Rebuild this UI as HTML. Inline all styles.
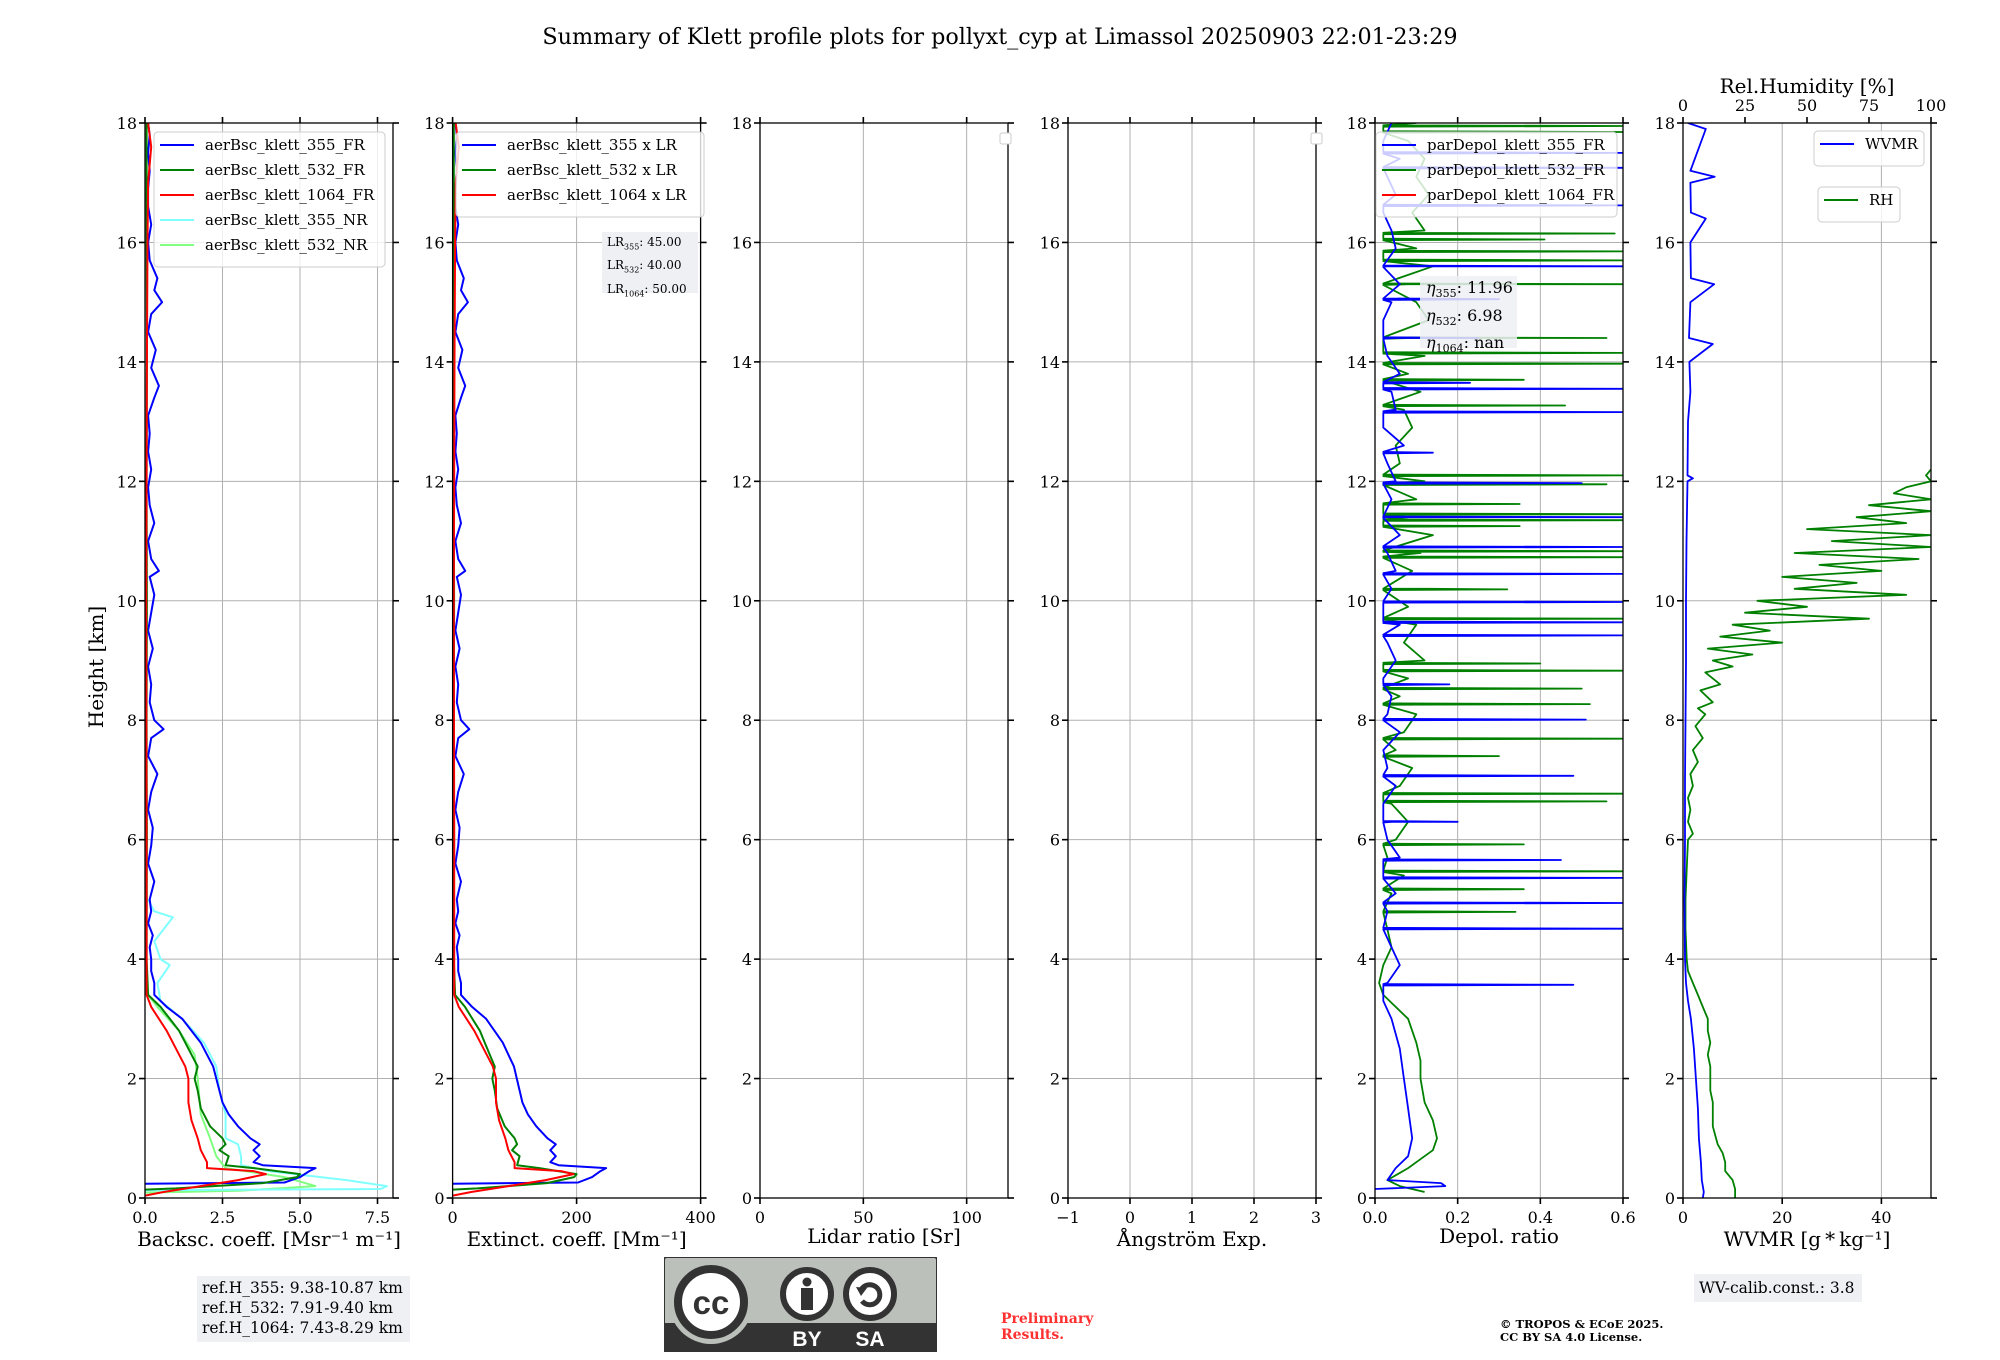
<!DOCTYPE html>
<html><head><meta charset="utf-8"><style>
html,body{margin:0;padding:0;background:#fff;}
svg{display:block;font-family:"DejaVu Serif","Liberation Serif",serif;}
</style></head><body>
<svg id="chart" width="2000" height="1360" viewBox="0 0 2000 1360" xmlns="http://www.w3.org/2000/svg">
<rect x="0" y="0" width="2000" height="1360" fill="#fff"/>
<text x="1000" y="44" text-anchor="middle" font-size="22.3">Summary of Klett profile plots for pollyxt_cyp at Limassol 20250903 22:01-23:29</text>
<text transform="translate(103,667) rotate(-90)" text-anchor="middle" font-size="20">Height [km]</text>
</svg>
<script>
// ---------------- data ----------------
const heightTicks=[0,2,4,6,8,10,12,14,16,18];
const lidarRatios=[45,40,50];
const bsc355FR=[[0.24,0],[0.26,4.5],[0.35,5.0],[0.45,5.3],[0.5,5.5],[0.55,3.8],[0.6,3.5],[0.7,3.7],[0.8,3.5],[0.9,3.7],[1.0,3.4],[1.2,3.0],[1.4,2.7],[1.6,2.5],[1.8,2.4],[2.0,2.3],[2.2,2.2],[2.4,2.0],[2.6,1.8],[2.8,1.5],[3.0,1.2],[3.2,0.7],[3.4,0.3],[3.6,0.3],[3.8,0.2],[4.0,0.2],[4.2,0.15],[4.4,0.25],[4.6,0.1],[4.8,0.2],[5.0,0.15],[5.3,0.3],[5.6,0.1],[5.9,0.2],[6.2,0.25],[6.5,0.1],[6.8,0.2],[7.1,0.4],[7.4,0.1],[7.7,0.2],[7.85,0.6],[8.0,0.3],[8.3,0.15],[8.6,0.2],[8.9,0.1],[9.2,0.25],[9.5,0.1],[9.8,0.2],[10.1,0.3],[10.4,0.15],[10.5,0.45],[10.7,0.2],[11.0,0.1],[11.3,0.3],[11.6,0.15],[11.9,0.1],[12.2,0.2],[12.5,0.1],[12.8,0.15],[13.1,0.1],[13.4,0.3],[13.6,0.45],[13.9,0.2],[14.2,0.35],[14.5,0.1],[14.8,0.2],[15.0,0.55],[15.2,0.3],[15.4,0.4],[15.7,0.15],[16.0,0.1],[16.3,0.2],[16.6,0.1],[16.9,0.1],[17.2,0.15],[17.5,0.1],[17.8,0.15],[18.0,0.1]];
const bsc532FR=[[0.14,0],[0.16,1.0],[0.25,3.8],[0.35,4.9],[0.4,5.0],[0.5,3.5],[0.55,2.6],[0.7,2.7],[0.8,2.4],[0.9,2.6],[1.0,2.5],[1.2,2.1],[1.5,1.8],[1.8,1.7],[2.0,1.6],[2.2,1.7],[2.4,1.5],[2.6,1.3],[2.8,1.1],[3.0,0.8],[3.2,0.5],[3.4,0.1],[4.0,0.05],[6.0,0.06],[8.0,0.05],[10.0,0.06],[12.0,0.05],[14.0,0.06],[16.0,0.05],[18.0,0.05]];
const bsc1064FR=[[0.04,0],[0.1,0.6],[0.2,1.8],[0.3,3.0],[0.4,3.9],[0.45,3.5],[0.5,2.0],[0.6,2.0],[0.8,1.8],[1.0,1.7],[1.3,1.5],[1.6,1.4],[2.0,1.4],[2.2,1.3],[2.4,1.1],[2.8,0.7],[3.2,0.2],[3.4,0.05],[6.0,0.05],[10.0,0.04],[14.0,0.06],[16.0,0.08],[17.0,0.1],[17.6,0.2],[18.0,0.1]];
const bsc355NR=[[0.13,0],[0.15,7.6],[0.2,7.8],[0.3,6.5],[0.45,4.0],[0.55,3.1],[0.7,3.1],[0.9,3.0],[1.0,2.6],[1.4,2.6],[1.8,2.4],[2.2,2.3],[2.6,1.9],[3.0,1.2],[3.3,0.5],[3.6,0.4],[3.9,0.8],[4.0,0.5],[4.3,0.3],[4.7,0.9],[4.8,0.3],[5.0,0.1]];
const bsc532NR=[[0.09,0],[0.12,3.0],[0.2,5.5],[0.35,4.5],[0.5,2.6],[0.7,2.3],[1.0,2.1],[1.4,1.8],[2.0,1.7],[2.4,1.6],[2.8,1.1],[3.2,0.4],[3.4,0.1]];
const dep355Low=[[0.15,0.0],[0.2,0.17],[0.25,0.16],[0.3,0.03],[0.5,0.05],[0.7,0.08],[1.0,0.09],[1.5,0.08],[2.0,0.07],[2.5,0.06],[3.0,0.04],[3.3,0.02],[3.6,0.03]];
const dep355Bg=[[3.9,0.06],[4.2,0.04],[4.5,0.05],[4.8,0.03],[5.1,0.05],[5.4,0.02],[5.7,0.06],[6.0,0.03],[6.3,0.04],[6.6,0.02],[6.9,0.05],[7.2,0.03],[7.5,0.02],[7.8,0.06],[8.1,0.03],[8.4,0.04],[8.7,0.02],[9.0,0.05],[9.3,0.03],[9.6,0.06],[9.9,0.02],[10.2,0.04],[10.5,0.05],[10.8,0.03],[11.1,0.06],[11.4,0.02],[11.7,0.04],[12.0,0.05],[12.3,0.03],[12.6,0.07],[12.9,0.02],[13.2,0.05],[13.5,0.04],[13.8,0.06],[14.1,0.03],[14.4,0.05],[14.7,0.02],[15.0,0.04],[15.3,0.06],[15.6,0.03],[15.9,0.05],[16.2,0.04],[16.5,0.02],[16.8,0.05],[17.1,0.03],[17.4,0.06],[17.7,0.02],[18.0,0.04]];
const dep355Spikes=[[17.5,0.6],[17.25,0.6],[16.62,0.6],[15.6,0.6],[15.05,0.3],[14.4,0.25],[13.65,0.23],[13.55,0.6],[13.16,0.6],[12.48,0.14],[11.97,0.5],[11.4,0.6],[10.9,0.6],[10.45,0.6],[9.98,0.6],[9.64,0.6],[9.42,0.6],[8.6,0.18],[8.01,0.51],[7.07,0.48],[6.3,0.2],[5.66,0.45],[5.36,0.6],[4.94,0.6],[4.51,0.6],[3.57,0.48]];
const dep532Low=[[0.1,0.12],[0.2,0.06],[0.3,0.03],[0.5,0.08],[0.6,0.1],[0.8,0.14],[1.0,0.15],[1.3,0.14],[1.6,0.12],[2.0,0.11],[2.3,0.11],[2.6,0.1],[3.0,0.08],[3.2,0.05],[3.4,0.02],[3.6,0.01]];
const dep532Bg=[[3.9,0.02],[4.2,0.04],[4.5,0.03],[4.8,0.06],[5.1,0.04],[5.4,0.07],[5.7,0.03],[6.0,0.05],[6.3,0.08],[6.6,0.04],[6.9,0.06],[7.2,0.09],[7.5,0.05],[7.8,0.07],[8.1,0.1],[8.4,0.06],[8.7,0.08],[9.0,0.12],[9.3,0.07],[9.6,0.1],[9.9,0.08],[10.2,0.13],[10.5,0.09],[10.8,0.11],[11.1,0.14],[11.4,0.08],[11.7,0.1],[12.0,0.12],[12.3,0.06],[12.6,0.05],[12.9,0.09],[13.2,0.07],[13.5,0.11],[13.8,0.08],[14.1,0.12],[14.4,0.09],[14.7,0.13],[15.0,0.1],[15.3,0.08],[15.6,0.14],[15.9,0.1],[16.2,0.12],[16.5,0.09],[16.8,0.13],[17.1,0.1],[17.4,0.12],[17.7,0.08],[18.0,0.1]];
const dep532Spikes=[[17.95,0.6],[17.85,0.6],[16.15,0.58],[16.05,0.41],[15.85,0.6],[15.7,0.6],[15.3,0.6],[14.4,0.56],[14.15,0.6],[13.97,0.6],[13.7,0.36],[13.27,0.46],[12.1,0.6],[11.95,0.56],[11.62,0.35],[11.45,0.6],[11.35,0.6],[11.25,0.35],[10.83,0.6],[10.73,0.6],[10.19,0.32],[9.7,0.6],[8.95,0.4],[8.83,0.6],[8.53,0.5],[8.27,0.52],[7.69,0.6],[7.4,0.3],[6.77,0.6],[6.64,0.56],[5.92,0.36],[5.47,0.6],[5.17,0.36],[4.79,0.34]];
const rhProfile=[[0,21],[0.15,21],[0.3,20],[0.45,17],[0.6,17],[0.75,16],[0.9,14],[1.05,13],[1.2,12],[1.4,12],[1.6,12],[1.8,11],[2.0,11],[2.2,11],[2.4,10],[2.6,11],[2.8,10],[3.0,10],[3.2,8],[3.4,6],[3.6,4],[3.8,2],[4.0,1.5],[4.5,1],[5.0,1],[5.5,1.5],[6.0,2],[6.1,4],[6.3,2],[6.5,3],[6.7,2],[6.9,4],[7.1,3],[7.3,6],[7.5,4],[7.7,8],[7.9,5],[8.1,9],[8.2,6],[8.3,12],[8.5,7],[8.6,15],[8.8,9],[8.9,20],[9.0,12],[9.1,28],[9.2,10],[9.3,40],[9.4,15],[9.5,35],[9.6,20],[9.7,75],[9.8,25],[9.9,50],[10.0,30],[10.1,90],[10.2,45],[10.3,70],[10.4,40],[10.5,80],[10.6,55],[10.7,95],[10.8,45],[10.9,100],[11.0,60],[11.1,100],[11.2,50],[11.3,90],[11.4,70],[11.5,100],[11.6,75],[11.7,100],[11.8,85],[11.9,90],[12.0,100],[12.1,98],[12.2,100]];
const wvmrProfile=[[0,4],[0.1,4.2],[0.3,3.8],[0.6,3.6],[1.0,3.2],[1.5,3.0],[2.0,2.6],[2.5,2.2],[3.0,1.6],[3.3,1.0],[3.6,0.6],[4.0,0.4],[5.0,0.3],[6.0,0.4],[7.0,0.4],[8.0,0.5],[9.0,0.6],[10.0,0.6],[11.0,0.7],[12.0,0.9],[12.05,2],[12.1,0.9],[13.0,1.0],[13.5,1.5],[14.0,1.3],[14.3,6],[14.4,1.2],[15.0,1.5],[15.3,6.3],[15.4,1.6],[16.0,1.5],[16.4,4.6],[16.5,1.6],[17.0,1.5],[17.1,6.4],[17.2,1.5],[17.9,4.6],[18.0,1.0]];

// ---------------- layout ----------------
const NS='http://www.w3.org/2000/svg';
const svg=document.getElementById('chart');
const TOP=123, BOT=1198, W=248;
function mk(tag,attrs,parent,name,inter){
  const e=document.createElementNS(NS,tag);
  for(const k in attrs) e.setAttribute(k,attrs[k]);
  
  
  (parent||svg).appendChild(e);
  return e;
}
function yS(h){return BOT-(h/18)*(BOT-TOP);}
const panels=[
 {id:'backscatter',left:145,xmin:0,xmax:8,ticks:[0,2.5,5,7.5],labels:['0.0','2.5','5.0','7.5'],xlabel:'Backsc. coeff. [Msr\u207B\u00B9 m\u207B\u00B9]',ly:48},
 {id:'extinction',left:452.6,xmin:0,xmax:400,ticks:[0,200,400],labels:['0','200','400'],xlabel:'Extinct. coeff. [Mm\u207B\u00B9]',ly:48},
 {id:'lidar-ratio',left:760,xmin:0,xmax:120,ticks:[0,50,100],labels:['0','50','100'],xlabel:'Lidar ratio [Sr]',ly:45},
 {id:'angstrom',left:1068,xmin:-1,xmax:3,ticks:[-1,0,1,2,3],labels:['\u22121','0','1','2','3'],xlabel:'\u00C5ngstr\u00F6m Exp.',ly:48},
 {id:'depol',left:1375,xmin:0,xmax:0.6,ticks:[0,0.2,0.4,0.6],labels:['0.0','0.2','0.4','0.6'],xlabel:'Depol. ratio',ly:45},
 {id:'wvmr',left:1683,xmin:0,xmax:50,ticks:[0,20,40],labels:['0','20','40'],xlabel:'WVMR [g\u2009*\u2009kg\u207B\u00B9]',ly:48}
];
function xS(p,v){return p.left+(v-p.xmin)/(p.xmax-p.xmin)*W;}

const groups={};
panels.forEach((p,i)=>{
  const g=mk('g',{},svg,p.id+'-panel',false);
  groups[p.id]=g;
  const cp=mk('clipPath',{id:'clip'+i},g,p.id+'-clip',false);
  mk('rect',{x:p.left,y:TOP,width:W,height:BOT-TOP},cp,p.id+'-clip-rect',false);
  heightTicks.forEach(h=>{ if(h>0&&h<18) mk('line',{x1:p.left,x2:p.left+W,y1:yS(h),y2:yS(h),stroke:'#b0b0b0','stroke-width':1},g,'h-gridline',false);});
  p.ticks.forEach(t=>{ const x=xS(p,t); if(x>p.left+1&&x<p.left+W-1) mk('line',{x1:x,x2:x,y1:TOP,y2:BOT,stroke:'#b0b0b0','stroke-width':1},g,'v-gridline',false);});
  p.dataG=mk('g',{'clip-path':'url(#clip'+i+')'},g,p.id+'-series',false);
});

function line(p,pts,color,name,mapX,width){
  const d=pts.map((pt,k)=>(k?'L':'M')+mapX(pt[1]).toFixed(1)+','+yS(pt[0]).toFixed(1)).join('');
  return mk('path',{d:d,fill:'none',stroke:color,'stroke-width':width||2,'stroke-linejoin':'round'},p.dataG,name,false);
}
const P=panels;
const fx0=v=>xS(P[0],v);
line(P[0],bsc532NR,'#80ff80','bsc-532-nr-line',fx0);
line(P[0],bsc355NR,'#80ffff','bsc-355-nr-line',fx0);
line(P[0],bsc355FR,'#0000ff','bsc-355-fr-line',fx0);
line(P[0],bsc532FR,'#008000','bsc-532-fr-line',fx0);
line(P[0],bsc1064FR,'#ff0000','bsc-1064-fr-line',fx0);
const fx1=v=>xS(P[1],v);
line(P[1],bsc355FR.map(d=>[d[0],d[1]*lidarRatios[0]]),'#0000ff','ext-355-line',fx1);
line(P[1],bsc532FR.map(d=>[d[0],d[1]*lidarRatios[1]]),'#008000','ext-532-line',fx1);
line(P[1],bsc1064FR.map(d=>[d[0],d[1]*lidarRatios[2]]),'#ff0000','ext-1064-line',fx1);
function depSeries(low,bg,spikes){
  const pts=low.concat(bg);
  spikes.forEach(s=>{pts.push([s[0]-0.012,0.02]);pts.push([s[0],s[1]]);pts.push([s[0]+0.012,0.02]);});
  pts.sort((a,b)=>a[0]-b[0]);
  return pts;
}
const fx4=v=>xS(P[4],v);
line(P[4],depSeries(dep532Low,dep532Bg,dep532Spikes),'#008000','depol-532-line',fx4,1.8);
line(P[4],depSeries(dep355Low,dep355Bg,dep355Spikes),'#0000ff','depol-355-line',fx4,1.8);
line(P[5],rhProfile,'#008000','rh-line',v=>P[5].left+v/100*W,1.8);
line(P[5],wvmrProfile,'#0000ff','wvmr-line',v=>xS(P[5],v),1.8);

panels.forEach((p,i)=>{
  const g=groups[p.id];
  mk('rect',{x:p.left,y:TOP,width:W,height:BOT-TOP,fill:'none',stroke:'#000','stroke-width':1.3},g,p.id+'-frame',false);
  heightTicks.forEach(h=>{
    const y=yS(h);
    mk('line',{x1:p.left-6,x2:p.left,y1:y,y2:y,stroke:'#000','stroke-width':1.6},g,'y-tick',false);
    mk('line',{x1:p.left+W,x2:p.left+W+6,y1:y,y2:y,stroke:'#000','stroke-width':1.6},g,'y-tick-right',false);
    const t=mk('text',{x:p.left-8,y:y+6,'text-anchor':'end','font-size':16},g,'y-tick-label',false);
    t.textContent=String(h);
  });
  p.ticks.forEach((tv,k)=>{
    const x=xS(p,tv);
    mk('line',{x1:x,x2:x,y1:BOT,y2:BOT+6,stroke:'#000','stroke-width':1.6},g,'x-tick',false);
    if(i<5) mk('line',{x1:x,x2:x,y1:TOP-6,y2:TOP,stroke:'#000','stroke-width':1.6},g,'x-tick-top',false);
    const t=mk('text',{x:x,y:BOT+25,'text-anchor':'middle','font-size':16},g,'x-tick-label',false);
    t.textContent=p.labels[k];
  });
  const xl=mk('text',{x:p.left+W/2,y:BOT+p.ly,'text-anchor':'middle','font-size':20},g,p.id+'-x-axis-title',false);
  xl.textContent=p.xlabel;
});
const rhTicks=[0,25,50,75,100];
rhTicks.forEach(v=>{
  const x=P[5].left+v/100*W;
  mk('line',{x1:x,x2:x,y1:TOP-6,y2:TOP,stroke:'#000','stroke-width':1.6},groups.wvmr,'rh-tick',false);
  const t=mk('text',{x:x,y:TOP-12,'text-anchor':'middle','font-size':16},groups.wvmr,'rh-tick-label',false);
  t.textContent=String(v);
});
const rht=mk('text',{x:P[5].left+W/2,y:93,'text-anchor':'middle','font-size':20},groups.wvmr,'rh-axis-title',false);
rht.textContent='Rel.Humidity [%]';

function legend(x,y,w,entries,name,fs,rowH,alpha){
  const g=mk('g',{},svg,name,false);
  mk('rect',{x:x,y:y,width:w,height:entries.length*rowH+10,rx:4,fill:'#fff','fill-opacity':alpha,stroke:'#cccccc','stroke-width':1},g,name+'-box',false);
  entries.forEach((e,k)=>{
    const cy=y+13+k*rowH;
    mk('line',{x1:x+6,x2:x+40,y1:cy,y2:cy,stroke:e[1],'stroke-width':2},g,'legend-swatch',false);
    const t=mk('text',{x:x+51,y:cy+5,'font-size':fs},g,'legend-entry',true);
    t.textContent=e[0];
  });
}
legend(154,132,231,[['aerBsc_klett_355_FR','#0000ff'],['aerBsc_klett_532_FR','#008000'],['aerBsc_klett_1064_FR','#ff0000'],['aerBsc_klett_355_NR','#80ffff'],['aerBsc_klett_532_NR','#80ff80']],'backscatter-legend',15,25,0.8);
legend(456,132,248,[['aerBsc_klett_355 x LR','#0000ff'],['aerBsc_klett_532 x LR','#008000'],['aerBsc_klett_1064 x LR','#ff0000']],'extinction-legend',15,25,0.8);
legend(1376,132,241,[['parDepol_klett_355_FR','#0000ff'],['parDepol_klett_532_FR','#008000'],['parDepol_klett_1064_FR','#ff0000']],'depol-legend',15,25,0.8);
legend(1814,131,110,[['WVMR','#0000ff']],'wvmr-legend',15,25,0.8);
legend(1818,187,82,[['RH','#008000']],'rh-legend',15,25,0.8);
mk('rect',{x:1000,y:133,width:11,height:11,rx:2,fill:'#fff',stroke:'#cccccc'},svg,'lidar-ratio-empty-legend',false);
mk('rect',{x:1311,y:133,width:11,height:11,rx:2,fill:'#fff',stroke:'#cccccc'},svg,'angstrom-empty-legend',false);
</script>
<div style="position:absolute;left:0;top:0;width:2000px;height:1360px;pointer-events:none;font-family:'DejaVu Serif','Liberation Serif',serif;">
  <div style="position:absolute;left:602px;top:232px;width:96px;height:61px;background:#eef0f4;font-size:12px;line-height:19px;padding:1px 0 0 5px;box-sizing:border-box;white-space:nowrap;">LR<sub style="font-size:8px">355</sub>: 45.00<br>LR<sub style="font-size:8px">532</sub>: 40.00<br>LR<sub style="font-size:8px">1064</sub>: 50.00</div>
  <div style="position:absolute;left:1420px;top:276px;width:97px;height:72px;background:rgba(238,240,244,0.85);font-size:16px;line-height:21.5px;padding:1px 0 0 6px;box-sizing:border-box;white-space:nowrap;"><i>η</i><sub style="font-size:11px">355</sub>: 11.96<br><i>η</i><sub style="font-size:11px">532</sub>: 6.98<br><i>η</i><sub style="font-size:11px">1064</sub>: nan</div>
  <div style="position:absolute;left:197px;top:1276px;width:213px;height:66px;background:#eef0f4;font-size:15.5px;line-height:20px;padding:2px 0 0 5px;box-sizing:border-box;white-space:nowrap;">ref.H_355: 9.38-10.87 km<br>ref.H_532: 7.91-9.40 km<br>ref.H_1064: 7.43-8.29 km</div>
  <div style="position:absolute;left:1694px;top:1274px;width:168px;height:28px;background:#eef0f4;font-size:15.5px;line-height:28px;padding-left:5px;box-sizing:border-box;white-space:nowrap;">WV-calib.const.: 3.8</div>
  <div style="position:absolute;left:1001px;top:1311px;color:#ff3030;font-weight:bold;font-size:14px;line-height:16px;">Preliminary<br>Results.</div>
  <div style="position:absolute;left:1500px;top:1318px;font-weight:bold;font-size:11.5px;line-height:13px;white-space:nowrap;">© TROPOS &amp; ECoE 2025.<br>CC BY SA 4.0 License.</div>
  <svg style="position:absolute;left:664px;top:1257px;" width="273" height="95" viewBox="0 0 273 95">
    <rect x="0" y="0" width="273" height="95" rx="3" fill="#bbc0bb" stroke="#333" stroke-width="2"/>
    <rect x="0" y="66" width="273" height="29" fill="#333"/>
    <circle cx="47" cy="45" r="42" fill="#bbc0bb"/>
    <circle cx="47" cy="45" r="33" fill="#fff" stroke="#333" stroke-width="8"/>
    <text x="47" y="57" text-anchor="middle" font-family="Liberation Sans,sans-serif" font-weight="bold" font-size="33" fill="#333">cc</text>
    <circle cx="143" cy="37" r="24" fill="#fff" stroke="#333" stroke-width="6"/>
    <circle cx="143" cy="25" r="4.5" fill="#333"/>
    <rect x="137" y="31" width="12" height="22" fill="#333"/>
    <circle cx="206" cy="37" r="24" fill="#fff" stroke="#333" stroke-width="6"/>
    <path d="M197 33 A10 10 0 1 1 198 44" fill="none" stroke="#333" stroke-width="5"/>
    <path d="M192 30 L203 31 L197 39 Z" fill="#333"/>
    <text x="143" y="89" text-anchor="middle" font-family="Liberation Sans,sans-serif" font-weight="bold" font-size="21" fill="#fff">BY</text>
    <text x="206" y="89" text-anchor="middle" font-family="Liberation Sans,sans-serif" font-weight="bold" font-size="21" fill="#fff">SA</text>
  </svg>
</div>
</body></html>
